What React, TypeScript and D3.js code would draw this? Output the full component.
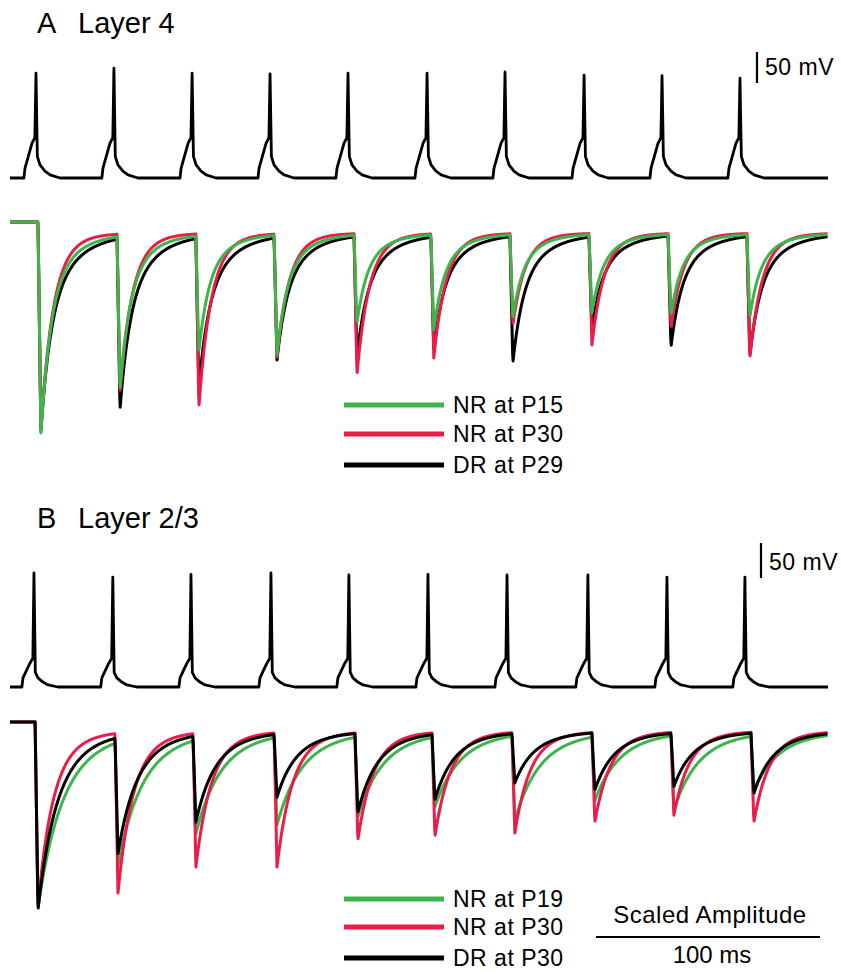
import React from 'react';
import { scaleLinear, line, range } from 'd3';

// ---- data ----
const panelLabels = ['A', 'B'];
const layerNames = ['Layer 4', 'Layer 2/3'];
const legendA = ['NR at P15', 'NR at P30', 'DR at P29'];
const legendB = ['NR at P19', 'NR at P30', 'DR at P30'];
const traceColors = ['#3db54a', '#ec1c48', '#000000']; // green, red, black

// action potentials (ms, mV relative to rest)
const spikeTimesA = [11.6, 46.4, 81.3, 116.1, 150.9, 186.2, 221.0, 256.3, 291.1, 325.9];
const spikePeaksA = [169, 177, 169, 168, 169, 169, 171, 166, 165, 161];
const spikeTimesB = [10.7, 45.9, 80.8, 116.5, 151.3, 186.6, 221.9, 258.0, 293.3, 328.1];
const spikePeaksB = [163, 157, 161, 163, 160, 161, 160, 160, 157, 157];
const spikeShapeMs = [-5.4, -4.9, -1.8, -0.5, 0, 0.6, 1.8, 4.0, 6.3, 10.7];
const spikeShapeA = [0, 16, 56, 65, null, 35, 21, 11, 5, 0];
const spikeShapeB = [0, 13, 34, 41, null, 21, 13, 7, 3, 0];

// synaptic responses, scaled amplitude (1 = first response), order: green, red, black
const pulseTimesA = [12.5, 47.8, 83.0, 117.9, 153.6, 187.9, 223.2, 258.5, 293.8, 329.0];
const pulseTimesB = [11.2, 46.9, 81.7, 117.9, 154.0, 188.4, 224.1, 259.8, 295.1, 330.8];
const greenA = [1.0, 0.785, 0.595, 0.61, 0.45, 0.485, 0.425, 0.4, 0.41, 0.42];
const redA = [0.99, 0.8, 0.875, 0.62, 0.71, 0.625, 0.46, 0.56, 0.475, 0.625];
const blackA = [0.985, 0.885, 0.775, 0.635, 0.62, 0.58, 0.65, 0.475, 0.57, 0.615];
const greenB = [0.99, 0.75, 0.575, 0.525, 0.48, 0.425, 0.5, 0.39, 0.44, 0.33];
const redB = [0.98, 0.905, 0.76, 0.76, 0.61, 0.59, 0.57, 0.51, 0.47, 0.51];
const blackB = [1.0, 0.685, 0.51, 0.37, 0.455, 0.385, 0.29, 0.33, 0.31, 0.35];
// decay kinetics per trace (green, red, black)
const fastWeightA = [0.7, 0.9, 0.6];
const tauFastA = [4.5, 5.4, 4.5];
const tauSlowA = [12.5, 11.2, 13.4];
const fastWeightB = [0.5, 0.8, 0.5];
const tauFastB = [8.9, 6.5, 6.7];
const tauSlowB = [16.1, 12, 13.4];

const T_END = 365.2;
const RISE = 1.3;
const W = 842;
const H = 972;
const FONT = '"Liberation Sans", Arial, Helvetica, sans-serif';

const x = scaleLinear().domain([0, T_END]).range([10, 828]);

function spikePoints(times: number[], peaks: number[], shape: (number | null)[]) {
  const pts: [number, number][] = [[0, 0]];
  times.forEach((t, i) => {
    spikeShapeMs.forEach((dt, j) => {
      const v = shape[j];
      pts.push([t + dt, v === null ? peaks[i] : v]);
    });
  });
  pts.push([T_END, 0]);
  return pts;
}

function epscPoints(pulses: number[], peaks: number[], w: number, tf: number, ts: number, base: number) {
  const decay = (p: number, dt: number) => p * (w * Math.exp(-dt / tf) + (1 - w) * Math.exp(-dt / ts));
  return range(0, T_END, 0.2).map((t) => {
    let k = -1;
    pulses.forEach((p, i) => {
      if (p <= t) k = i;
    });
    if (k < 0) return [t, base] as [number, number];
    const res = k === 0 ? base : decay(peaks[k - 1], pulses[k] - pulses[k - 1] - RISE);
    const dt = t - pulses[k];
    if (dt < RISE) return [t, res + ((peaks[k] - res) * dt) / RISE] as [number, number];
    return [t, decay(peaks[k], dt - RISE)] as [number, number];
  });
}

function Panel(props: {
  idx: number;
  top: number;
  spikeTimes: number[];
  spikePeaks: number[];
  spikeShape: (number | null)[];
  spikeBase: number;
  pxPerMv: number;
  barX: number;
  barTop: number;
  pulses: number[];
  series: number[][];
  weights: number[];
  tauF: number[];
  tauS: number[];
  epscZero: number;
  epscOne: number;
  base: number;
  order: number[];
  legend: string[];
  legendYs: number[];
}) {
  const p = props;
  const ySpike = scaleLinear().domain([0, 50]).range([p.spikeBase, p.spikeBase - 50 * p.pxPerMv]);
  const yEpsc = scaleLinear().domain([0, 1]).range([p.epscZero, p.epscOne]);
  const spikeLine = line<[number, number]>()
    .x((d) => x(d[0]))
    .y((d) => ySpike(d[1]));
  const epscLine = line<[number, number]>()
    .x((d) => x(d[0]))
    .y((d) => yEpsc(d[1]));
  const barLen = ySpike(0) - ySpike(50);
  return (
    <g>
      <text x={37} y={p.top} fontSize={29} fontFamily={FONT}>
        {panelLabels[p.idx]}
      </text>
      <text x={78} y={p.top} fontSize={29} fontFamily={FONT}>
        {layerNames[p.idx]}
      </text>
      <line x1={p.barX} x2={p.barX} y1={p.barTop} y2={p.barTop + barLen} stroke="#000" strokeWidth={2.2} />
      <text x={p.barX + 8} y={p.barTop + barLen - 8} fontSize={23} fontFamily={FONT} letterSpacing={0.5}>
        50 mV
      </text>
      <path
        d={spikeLine(spikePoints(p.spikeTimes, p.spikePeaks, p.spikeShape)) || ''}
        fill="none"
        stroke="#000"
        strokeWidth={2.8}
        strokeLinejoin="round"
      />
      {p.order.map((s) => (
        <path
          key={s}
          d={epscLine(epscPoints(p.pulses, p.series[s], p.weights[s], p.tauF[s], p.tauS[s], p.base)) || ''}
          fill="none"
          stroke={traceColors[s]}
          strokeWidth={3}
          strokeLinejoin="round"
        />
      ))}
      {p.legend.map((name, i) => (
        <g key={name + i}>
          <line x1={344} x2={444} y1={p.legendYs[i]} y2={p.legendYs[i]} stroke={traceColors[i]} strokeWidth={5} />
          <text x={453} y={p.legendYs[i] + 8} fontSize={23} fontFamily={FONT} letterSpacing={0.5}>
            {name}
          </text>
        </g>
      ))}
    </g>
  );
}

export default function App() {
  return (
    <div style={{ position: 'absolute', left: 0, top: 0 }}>
      <svg width={W} height={H} viewBox={`0 0 ${W} ${H}`} style={{ display: 'block', background: '#fff' }}>
        <Panel
          idx={0}
          top={33}
          spikeTimes={spikeTimesA}
          spikePeaks={spikePeaksA}
          spikeShape={spikeShapeA}
          spikeBase={178}
          pxPerMv={0.62}
          barX={757}
          barTop={52}
          pulses={pulseTimesA}
          series={[greenA, redA, blackA]}
          weights={fastWeightA}
          tauF={tauFastA}
          tauS={tauSlowA}
          epscZero={233}
          epscOne={433}
          base={-0.055}
          order={[2, 1, 0]}
          legend={legendA}
          legendYs={[405, 434, 465]}
        />
        <Panel
          idx={1}
          top={528}
          spikeTimes={spikeTimesB}
          spikePeaks={spikePeaksB}
          spikeShape={spikeShapeB}
          spikeBase={687}
          pxPerMv={0.7}
          barX={761}
          barTop={543}
          pulses={pulseTimesB}
          series={[greenB, redB, blackB]}
          weights={fastWeightB}
          tauF={tauFastB}
          tauS={tauSlowB}
          epscZero={731}
          epscOne={910}
          base={-0.05}
          order={[0, 1, 2]}
          legend={legendB}
          legendYs={[899, 927, 958]}
        />
        <text x={710} y={923} fontSize={24} fontFamily={FONT} textAnchor="middle" letterSpacing={0.5}>
          Scaled Amplitude
        </text>
        <line x1={x(T_END) - 8 - (x(100) - x(0))} x2={x(T_END) - 8} y1={937} y2={937} stroke="#000" strokeWidth={2.2} />
        <text x={712} y={963} fontSize={24} fontFamily={FONT} textAnchor="middle">
          100 ms
        </text>
      </svg>
    </div>
  );
}
